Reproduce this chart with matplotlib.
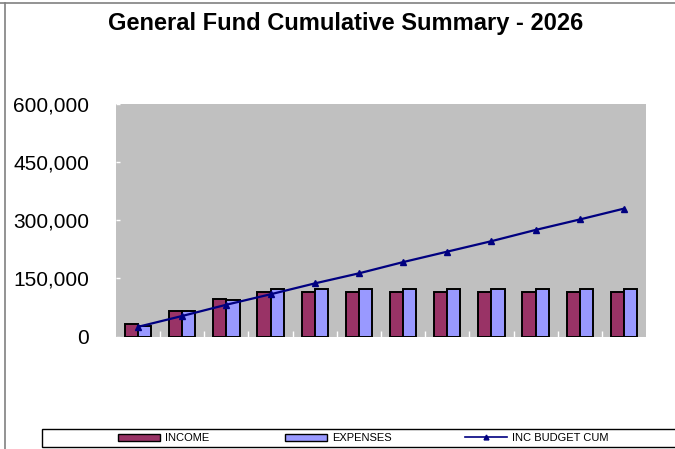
import numpy as np
import matplotlib.pyplot as plt
from matplotlib.patches import Rectangle, Patch
from matplotlib.lines import Line2D
from matplotlib.ticker import FuncFormatter

plt.rcParams['font.family'] = ['Liberation Sans', 'DejaVu Sans']

# podaci (procjena s grafa)
months = ['Jan', 'Feb', 'Mar', 'Apr', 'May', 'Jun', 'Jul', 'Aug', 'Sep', 'Oct', 'Nov', 'Dec']
income = [33500, 65000, 96000, 115500, 115500, 116000, 116000, 116000, 116000, 116000, 116000, 116000]
expenses = [27000, 65000, 94500, 122500, 122500, 122500, 122500, 122500, 122500, 122500, 122500, 122500]
inc_budget_cum = [25000, 53000, 82000, 109000, 137000, 163000, 192000, 219000, 246000, 275000, 302000, 330000]
yticks = [0, 150000, 300000, 450000, 600000]

W, H = 675, 449
fig = plt.figure(figsize=(W / 100, H / 100), dpi=100)

# plot area u pikselima
left, right, top, bottom = 116, 646, 104, 336.5
ax = fig.add_axes([left / W, 1 - bottom / H, (right - left) / W, (bottom - top) / H])
ax.set_facecolor('#C0C0C0')

x = np.arange(len(months))
bw = 0.3
ax.bar(x - bw / 2, income, bw, color='#993366', edgecolor='black', linewidth=1.4, zorder=2)
ax.bar(x + bw / 2, expenses, bw, color='#9999FF', edgecolor='black', linewidth=1.4, zorder=2)
ax.plot(x, inc_budget_cum, color='#000080', linewidth=1.6, marker='^', markersize=4, zorder=3)

ax.set_xlim(-0.5, len(months) - 0.5)
ax.set_ylim(0, 600000)
ax.set_yticks(yticks)
ax.yaxis.set_major_formatter(FuncFormatter(lambda v, p: f'{int(v):,}'))
ax.tick_params(axis='y', direction='in', length=3.2, width=1, color='white',
               labelsize=15, pad=19.5)
ax.set_xticks([])
ax.set_xticks(np.arange(0.5, len(months) - 0.5, 1), minor=True)
ax.tick_params(axis='x', which='minor', direction='in', length=4, width=1, color='white')
for s in ax.spines.values():
    s.set_visible(False)

# naslov
fig.text(346 / W, 1 - 30 / H, 'General Fund Cumulative Summary - 2026',
         ha='center', va='baseline', fontsize=17, fontweight='bold')

# okvir figure
fig.add_artist(Line2D([0, 1], [1 - 3 / H, 1 - 3 / H], color='#808080', linewidth=1.2))
fig.add_artist(Line2D([5 / W, 5 / W], [0, 1 - 3 / H], color='#808080', linewidth=1.2))

# okvir legende
fig.add_artist(Rectangle((42 / W, 1 - 447 / H), (W + 60 - 42) / W, 18 / H,
                         transform=fig.transFigure, facecolor='white',
                         edgecolor='black', linewidth=1.0, clip_on=False))

handles = [
    (Patch(facecolor='#993366', edgecolor='black', linewidth=1.0), 'INCOME', 118),
    (Patch(facecolor='#9999FF', edgecolor='black', linewidth=1.0), 'EXPENSES', 285),
    (Line2D([], [], color='#000080', linewidth=1.2, marker='^', markersize=3.5), 'INC BUDGET CUM', 465),
]
for h, lab, px in handles:
    leg = fig.legend([h], [lab], loc='center left', bbox_to_anchor=(px / W, 1 - 438 / H),
                     frameon=False, fontsize=8, handlelength=3.8, handleheight=0.6,
                     handletextpad=0.45, borderpad=0, borderaxespad=0)

fig.savefig('out.png', dpi=100)
